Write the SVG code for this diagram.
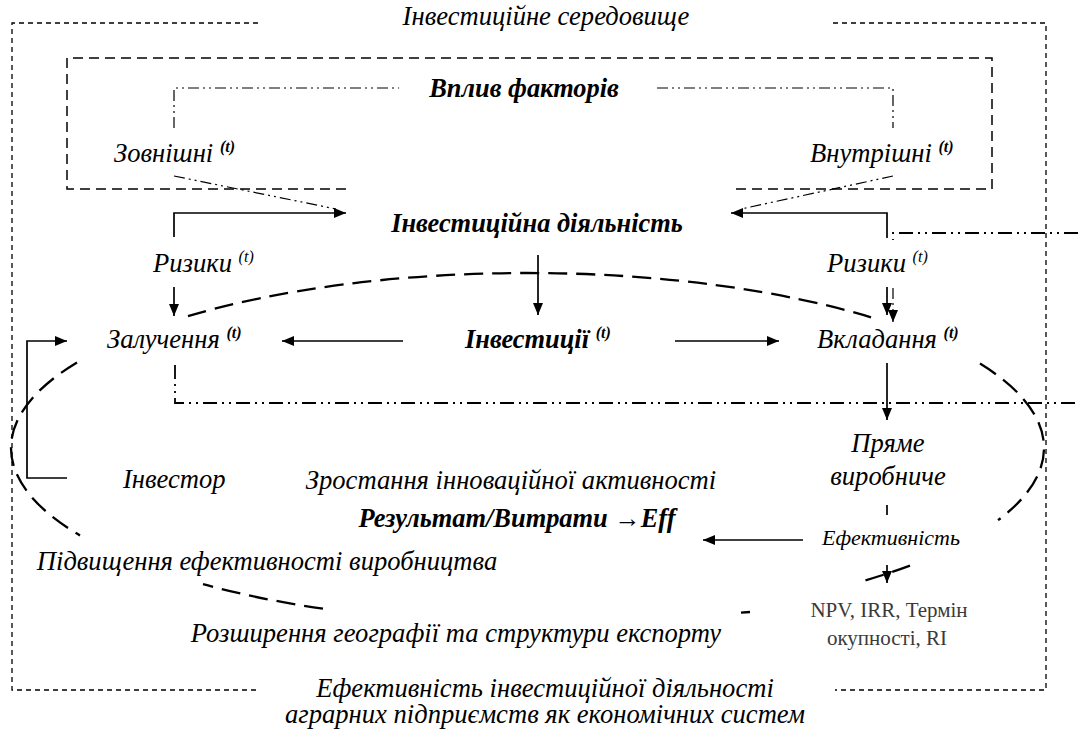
<svg xmlns="http://www.w3.org/2000/svg" width="1078" height="731" viewBox="0 0 1078 731">
<style>
  text { font-family: "Liberation Serif", "Times New Roman", serif; fill: #000; }
  .it { font-style: italic; font-size: 26.6px; }
  .bi { font-style: italic; font-weight: bold; font-size: 26.4px; }
  .sup { font-size: 16px; font-style: italic; }
  .supb { font-size: 16px; font-style: italic; font-weight: bold; }
  .rg { font-size: 21px; fill: #3a3a3a; }
  .sm { font-style: italic; font-size: 22px; }
  .frame { fill: none; stroke: #000; stroke-width: 1.3; stroke-dasharray: 5 4; }
  .rect { fill: none; stroke: #000; stroke-width: 1.5; stroke-dasharray: 10 6; }
  .ddot { fill: none; stroke: #000; stroke-width: 1.2; stroke-dasharray: 11 4 2 4 2 4; }
  .dd2 { fill: none; stroke: #000; stroke-width: 1.8; stroke-dasharray: 14 5 2 5 2 5; }
  .ell { fill: none; stroke: #000; stroke-width: 2.3; stroke-dasharray: 19 9; }
  .sol { fill: none; stroke: #000; stroke-width: 1.7; }
</style>
<defs>
  <marker id="ah" viewBox="0 0 12 10" refX="12" refY="5" markerWidth="12" markerHeight="10" markerUnits="userSpaceOnUse" orient="auto">
    <path d="M0,0 L12,5 L0,10 z" fill="#000"/>
  </marker>
</defs>

<g id="frames">
  <path class="frame" d="M258,23 H12 V690 H260"/>
  <path class="frame" d="M833,23 H1046 V690 H835"/>
  <path class="rect" d="M346,189 H67 V58 H992 V189 H731"/>
  <path class="ddot" d="M174,128 V88 H399"/>
  <path class="ddot" d="M657,88 H893 V128"/>
</g>

<g id="ellipse">
  <path class="ell" d="M188,316.1 A516.5,175 0 0,1 871,317.3"/>
  <path class="ell" d="M980,363.6 A516.5,175 0 0,1 998,520.2"/>
  <path class="ell" d="M910,565.6 A516.5,175 0 0,1 860,581.9"/>
  <path class="ell" d="M750,612 L741,612.6"/>
  <path class="ell" d="M323,608.7 A516.5,175 0 0,1 203,584.2"/>
  <path class="ell" d="M77,362.4 A516.5,175 0 0,0 80,535.4"/>
</g>

<g id="connectors">
  <path class="ddot" d="M174,176 L336,209"/>
  <path class="ddot" d="M893,176 L741,209"/>
  <path class="sol" d="M174,237 V213 H346" marker-end="url(#ah)"/>
  <path class="sol" d="M887,238 V213 H731" marker-end="url(#ah)"/>
  <path class="sol" d="M174,287 V316" marker-end="url(#ah)"/>
  <path class="sol" d="M887,287 V315" marker-end="url(#ah)"/>
  <path class="dd2" d="M1078,233 H893 V240"/>
  <path class="ddot" d="M893,288 V322" marker-end="url(#ah)"/>
  <path class="sol" d="M538,255 V315" marker-end="url(#ah)"/>
  <path class="sol" d="M403,341 H282" marker-end="url(#ah)"/>
  <path class="sol" d="M675,341 H779" marker-end="url(#ah)"/>
  <path class="sol" d="M67,478 H27 V341 H67" marker-end="url(#ah)"/>
  <path class="dd2" d="M175,365 V403 H1078"/>
  <path class="sol" d="M887,363 V420" marker-end="url(#ah)"/>
  <path class="sol" d="M887,505 V515"/>
  <path class="sol" d="M803,540 H703" marker-end="url(#ah)"/>
  <path class="sol" d="M887,565 V583" marker-end="url(#ah)"/>
</g>

<g id="n-env"><text class="it" x="546" y="25" text-anchor="middle">Інвестиційне середовище</text></g>
<g id="n-factors"><text class="bi" x="524" y="97" text-anchor="middle">Вплив факторів</text></g>
<g id="n-external"><text class="it" x="114" y="162">Зовнішні <tspan class="supb" dy="-10">(t)</tspan></text></g>
<g id="n-internal"><text class="it" x="810" y="162">Внутрішні <tspan class="supb" dy="-10">(t)</tspan></text></g>
<g id="n-activity"><text class="bi" x="537" y="232" text-anchor="middle">Інвестиційна діяльність</text></g>
<g id="n-risk-left"><text class="it" x="153" y="272">Ризики <tspan class="sup" dy="-10">(t)</tspan></text></g>
<g id="n-risk-right"><text class="it" x="827" y="272">Ризики <tspan class="sup" dy="-10">(t)</tspan></text></g>
<g id="n-attract"><text class="it" x="107" y="348">Залучення <tspan class="supb" dy="-10">(t)</tspan></text></g>
<g id="n-invest"><text class="bi" x="465" y="348">Інвестиції <tspan class="supb" dy="-10">(t)</tspan></text></g>
<g id="n-deposit"><text class="it" x="817" y="348">Вкладання <tspan class="supb" dy="-10">(t)</tspan></text></g>
<g id="n-investor"><text class="it" x="123" y="488">Інвестор</text></g>
<g id="n-growth"><text class="it" x="511" y="489" text-anchor="middle">Зростання інноваційної активності</text></g>
<g id="n-direct"><text class="it" x="888" y="452" text-anchor="middle">Пряме</text><text class="it" x="888" y="485" text-anchor="middle">виробниче</text></g>
<g id="n-result"><text class="bi" x="517" y="527" text-anchor="middle">Результат/Витрати →Eff</text></g>
<g id="n-eff"><text class="sm" x="822" y="545">Ефективність</text></g>
<g id="n-prod"><text class="it" x="267" y="570" text-anchor="middle">Підвищення ефективності виробництва</text></g>
<g id="n-npv"><text class="rg" x="889" y="617" text-anchor="middle">NPV, IRR, Термін</text><text class="rg" x="887" y="645" text-anchor="middle">окупності, RI</text></g>
<g id="n-export"><text class="it" x="456" y="642" text-anchor="middle">Розширення географії та структури експорту</text></g>
<g id="n-title"><text class="it" x="545" y="697" text-anchor="middle">Ефективність інвестиційної діяльності</text><text class="it" x="545" y="723" text-anchor="middle">аграрних підприємств як економічних систем</text></g>
</svg>
